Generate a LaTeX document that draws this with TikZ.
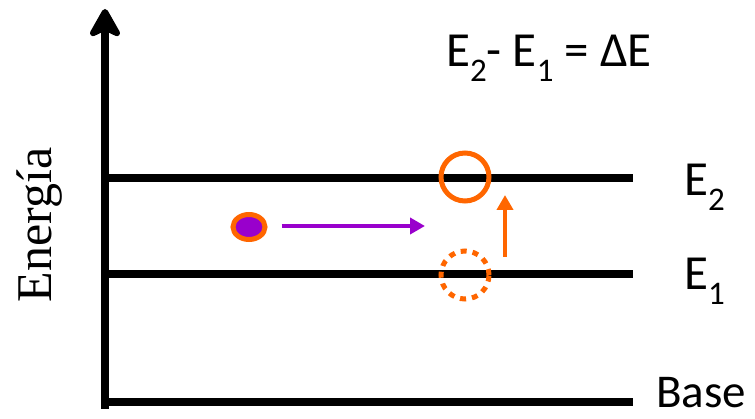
\documentclass[tikz,border=0pt]{standalone}
\usepackage{fontspec}
\setmainfont{Carlito}
\newfontfamily\timesfont{Liberation Serif}
\usepackage{xcolor}
\usetikzlibrary{shapes.geometric, arrows.meta, positioning}

\definecolor{quantorange}{HTML}{FF6600}
\definecolor{quantpurple}{HTML}{9900CC}
\newcommand{\lowsub}[1]{\raisebox{-15pt}{\fontsize{33}{40}\selectfont #1}}

\begin{document}
\begin{tikzpicture}[
    x=1pt, y=-1pt,
    level/.style={line width=8pt},
    axis/.style={line width=8pt, -{Stealth[length=34pt, width=38pt, inset=9pt, round]}},
    lvltext/.style={font=\fontsize{49}{58}\selectfont, inner sep=0pt},
    orbit/.style={circle, draw=quantorange, line width=5pt, minimum size=48pt, inner sep=0pt},
    jump/.style={line width=4pt, -{Triangle[length=15pt, width=16pt]}}
]
\useasboundingbox (0,0) rectangle (755,419);

% Axes and energy levels
\coordinate (axisfoot) at (105,409);
\coordinate (axistop) at (105,9);
\coordinate (base0) at (105,402);
\coordinate (base1) at (633,402);
\coordinate (low0) at (105,274);
\coordinate (low1) at (633,274);
\coordinate (high0) at (105,178);
\coordinate (high1) at (633,178);

\draw[level] (base0) -- (base1);
\draw[level] (low0) -- (low1);
\draw[level] (high0) -- (high1);
\draw[axis] (axisfoot) -- (axistop);

% Labels
\node[lvltext, anchor=base west] (ltwo) at (684,196) {E\lowsub{2}};
\node[lvltext, anchor=base west] (lone) at (684,290) {E\lowsub{1}};
\node[lvltext, font=\fontsize{47}{56}\selectfont, anchor=base west] (lbase) at (656,408) {Base};
\node[lvltext, anchor=base west] (diff) at (446,67) {E\lowsub{2}- E\lowsub{1} = ΔE};
\node[font=\timesfont\fontsize{50}{60}\selectfont, inner sep=0pt, rotate=90, anchor=base] (energy) at (51,225) {Energía};

% Electron and transition
\node[ellipse, draw=quantorange, fill=quantpurple, line width=5pt,
      minimum width=32pt, minimum height=25pt, inner sep=0pt] (electron) at (249,227) {};
\coordinate (photonend) at (425,226);
\draw[jump, quantpurple, shorten <=14pt] (electron.east |- photonend) -- (photonend);

\node[orbit] (upper) at (465,177) {};
\node[orbit, dash pattern=on 6pt off 6pt] (lower) at (465,275) {};

\coordinate (kickfoot) at (505,257);
\coordinate (kicktip) at (505,195);
\draw[jump, quantorange] (kickfoot) -- (kicktip);
\end{tikzpicture}
\end{document}
